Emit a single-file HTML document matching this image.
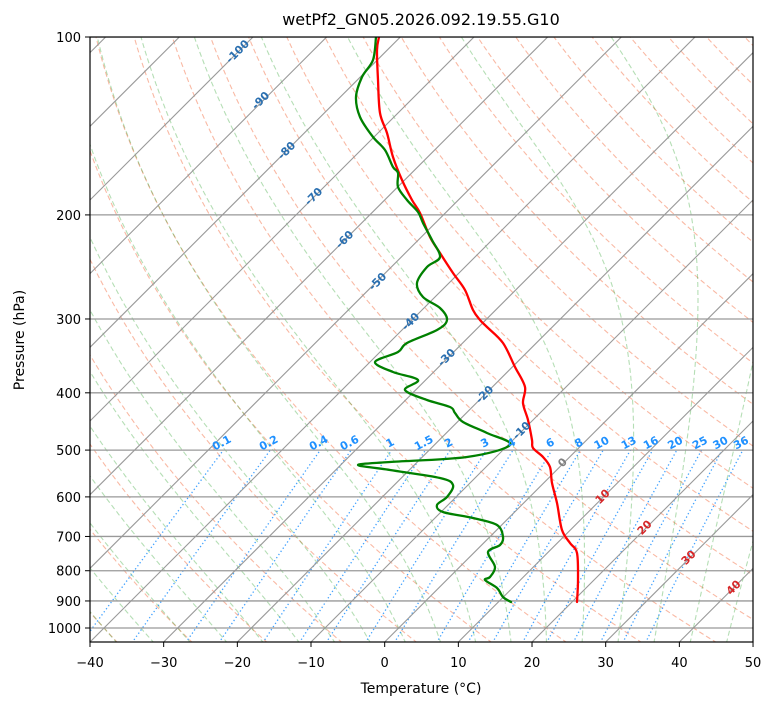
<!DOCTYPE html>
<html><head><meta charset="utf-8"><style>
body{margin:0;background:#fff;}
svg text{font-family:"DejaVu Sans","Liberation Sans",sans-serif;}
</style></head><body>
<svg id="s" width="775" height="708" xmlns="http://www.w3.org/2000/svg">
<defs><clipPath id="c"><rect x="90" y="37" width="663" height="605"/></clipPath></defs>
<rect width="775" height="708" fill="#fff"/>
<g id="bg" clip-path="url(#c)"></g>
<g clip-path="url(#c)" fill="none" stroke-width="2.3" stroke-linejoin="round" stroke-linecap="round">
<path id="red" stroke="#ff0000"/>
<path id="grn" stroke="#008000"/>
</g>
<g id="lab" font-weight="bold" font-size="11"></g>
<rect x="90" y="37" width="663" height="605" fill="none" stroke="#000" stroke-width="1.2"/>
<g id="ax" font-size="13" fill="#000"></g>
<text x="421" y="25" text-anchor="middle" font-size="16">wetPf2_GN05.2026.092.19.55.G10</text>
<text x="421" y="693" text-anchor="middle" font-size="14">Temperature (°C)</text>
<text transform="translate(24,340) rotate(-90)" text-anchor="middle" font-size="14">Pressure (hPa)</text>
</svg>
<script>
function smooth(s){var a=s.trim().split(/\s+/).map(function(q){return q.split(',').map(Number)});
var d='M'+a[0][0]+','+a[0][1];
for(var i=0;i<a.length-1;i++){var p0=a[i-1]||a[i],p1=a[i],p2=a[i+1],p3=a[i+2]||p2;
d+=' C'+(p1[0]+(p2[0]-p0[0])/6).toFixed(1)+','+(p1[1]+(p2[1]-p0[1])/6).toFixed(1)+' '+(p2[0]-(p3[0]-p1[0])/6).toFixed(1)+','+(p2[1]-(p3[1]-p1[1])/6).toFixed(1)+' '+p2[0]+','+p2[1];}
return d;}
document.getElementById('red').setAttribute('d',smooth("379,37 377,50 378,80 380,113 387,133 393,157 402,180 412,200 420,213 430,237 440,253 453,273 465,290 473,310 480,320 487,327 503,343 515,367 525,387 523,403 528,420 532,440 533,448 543,457 550,467 552,483 557,503 562,530 570,543 577,553 578,580 577,602"));
document.getElementById('grn').setAttribute('d',smooth("376,37 373,60 362,77 356,97 360,117 373,137 385,150 393,167 398,173 398,187 407,200 418,212 423,223 432,240 440,257 427,267 417,283 423,297 440,308 447,320 437,330 407,343 398,352 375,362 393,372 418,380 405,390 427,400 450,407 455,413 463,422 487,433 510,445 467,457 390,462 358,465 390,470 440,478 453,485 447,497 437,505 443,512 473,518 497,525 503,537 500,545 488,552 495,567 490,577 485,580 497,588 503,597 511,602"));
function Y(p){return 37+591*Math.log10(p/100);}
function X(T,p){return 90+(T+40)*7.367+(642-Y(p));}
var bg=document.getElementById('bg'),h='';
function pl(pts,st){return '<polyline fill="none" points="'+pts.map(function(a){return a[0].toFixed(1)+','+a[1].toFixed(1)}).join(' ')+'" '+st+'/>';}
var ps=[];for(var p=1060;p>=98;p-=4)ps.push(p);
for(var t0=-50;t0<=250;t0+=10){var th=t0+273.15;var pts=ps.map(function(p){return [X(th*Math.pow(p/1000,0.2857)-273.15,p),Y(p)]});
h+=pl(pts,'stroke="#f4805a" stroke-opacity="0.55" stroke-width="1.1" stroke-dasharray="5,3"');}
function es(T){return 6.112*Math.exp(17.67*T/(T+243.5));}
function grad(T,p){var Tk=T+273.15,rs=0.622*es(T)/(p-es(T)),L=2.501e6,Rd=287,cp=1005;
return (Rd*Tk+L*rs)/(p*(cp+L*L*rs*0.622/(Rd*Tk*Tk)));}
for(var t0=-40;t0<=50;t0+=5){var T,p;
var up=[];for(p=1000,T=t0;p>=98;p-=2){up.push([X(T,p),Y(p)]);T-=grad(T,p)*2;}
var dn=[];for(p=1000,T=t0;p<=1062;p+=2){dn.push([X(T,p),Y(p)]);T+=grad(T,p)*2;}
h+=pl(dn.reverse().concat(up),'stroke="#2ca02c" stroke-opacity="0.35" stroke-width="1.1" stroke-dasharray="5,3"');}
var ws=[0.1,0.2,0.4,0.6,1,1.5,2,3,4,6,8,10,13,16,20,25,30,36],labs='';
ws.forEach(function(w){var pts=[];for(var p=1060;p>=500;p-=5){var e=w*p/(622+w),l=Math.log(e/6.112),Td=243.5*l/(17.67-l);pts.push([X(Td,p),Y(p)]);}
h+=pl(pts,'stroke="#1e90ff" stroke-opacity="0.85" stroke-width="1.3" stroke-dasharray="1.3,2.5"');
var q=pts[pts.length-1];labs+='<text fill="#1e90ff" text-anchor="middle" transform="translate('+q[0].toFixed(1)+','+(q[1]-4)+') rotate(-28)">'+w+'</text>';});
for(var p=100;p<=1000;p+=100){var y=Y(p);h+='<line x1="90" x2="753" y1="'+y+'" y2="'+y+'" stroke="#999" stroke-width="1.3"/>';}
for(var T=-150;T<=50;T+=10){var x0=90+(T+40)*7.367;h+='<line x1="'+x0+'" y1="642" x2="'+(x0+700)+'" y2="-58" stroke="#999" stroke-width="1.1"/>';}
bg.innerHTML=h;
var il=[[-100,238,52],[-90,261,101],[-80,287,151],[-70,314,197],[-60,345,240],[-50,378,282],[-40,411,322],[-30,447,358],[-20,485,395],[-10,522,431],[0,563,463],[10,603,497],[20,645,528],[30,689,558],[40,734,588]];
il.forEach(function(a){var c=a[0]<0?'#2a6fb0':(a[0]==0?'#808080':'#d62728');
labs+='<text fill="'+c+'" text-anchor="middle" dominant-baseline="middle" transform="translate('+a[1]+','+a[2]+') rotate(-45)">'+a[0]+'</text>';});
document.getElementById('lab').innerHTML=labs;
var ax='';
for(var T=-40;T<=50;T+=10){var x=90+(T+40)*7.367;ax+='<line x1="'+x+'" x2="'+x+'" y1="642" y2="647" stroke="#000"/><text x="'+x+'" y="667" text-anchor="middle">'+(T<0?'\u2212'+(-T):T)+'</text>';}
for(var p=100;p<=1000;p+=100){var y=Y(p);ax+='<line x1="85" x2="90" y1="'+y+'" y2="'+y+'" stroke="#000"/><text x="81" y="'+(y+5)+'" text-anchor="end">'+p+'</text>';}
document.getElementById('ax').innerHTML=ax;
</script>
</body></html>
